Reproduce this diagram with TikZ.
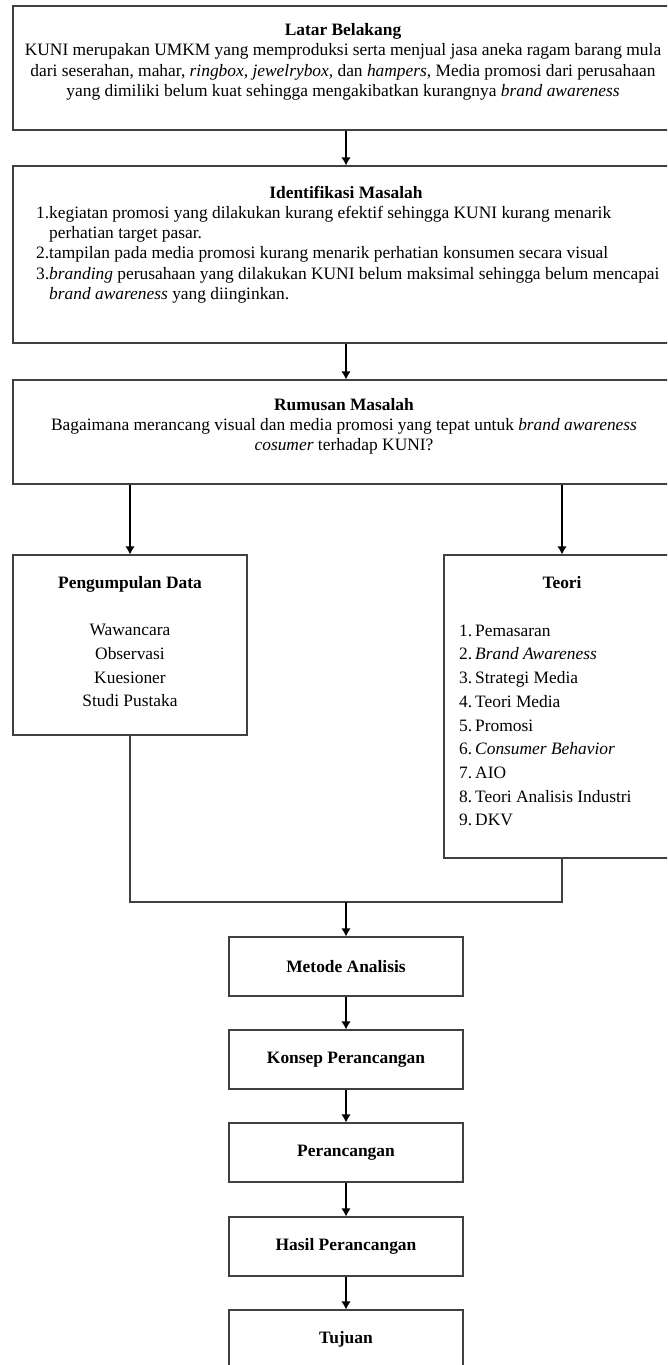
\documentclass[tikz,border=0pt]{standalone}
\usepackage{fontspec}
\setmainfont{Liberation Serif}
\usetikzlibrary{arrows.meta,calc}
\begin{document}
\begin{tikzpicture}[x=1pt,y=-1pt,
  box/.style={draw=black!75, line width=1.1pt, rectangle, inner sep=0pt},
  sbox/.style={box, minimum width=234pt, minimum height=59pt, font=\fontsize{17.4}{20.2}\selectfont\bfseries},
  arr/.style={draw=black, line width=2.1pt, -{Latex[length=8pt,width=9.5pt]}},
  conn/.style={draw=black!75, line width=1.1pt},
  txt/.style={inner sep=0pt, font=\fontsize{17.4}{20.2}\selectfont},
  ltxt/.style={inner sep=0pt, font=\fontsize{17.4}{23.7}\selectfont},
]
\useasboundingbox (0,0) rectangle (667,1365);
\clip (0,0) rectangle (667,1365);

% boxes
\node[box, minimum width=666pt, minimum height=124pt] (lb) at (346,68) {};
\node[box, minimum width=666pt, minimum height=177pt] (im) at (346,254.5) {};
\node[box, minimum width=666pt, minimum height=104pt] (rm) at (346,432) {};
\node[box, minimum width=234pt, minimum height=180pt] (pd) at (130,645) {};
\node[box, minimum width=236pt, minimum height=303pt] (teori) at (562,706.5) {};
\node[sbox] (ma) at (346,966.5) {Metode Analisis};
\node[sbox] (kp) at (346,1059.5) {Konsep Perancangan};
\node[sbox] (pr) at (346,1152.5) {Perancangan};
\node[sbox] (hp) at (346,1246.5) {Hasil Perancangan};
\node[sbox] (tj) at (346,1339.5) {Tujuan};

% texts
\node[txt, anchor=north, align=center] (lbt) at (343,21.4)
 {\strut\textbf{Latar Belakang}\\
  KUNI merupakan UMKM yang memproduksi serta menjual jasa aneka ragam barang mula\\
  dari seserahan, mahar, \textit{ringbox, jewelrybox,} dan \textit{hampers}, Media promosi dari perusahaan\\
  yang dimiliki belum kuat sehingga mengakibatkan kurangnya \textit{brand awareness}};

\node[txt, anchor=base] (imt) at (346,198) {\bfseries Identifikasi Masalah};
\node[txt, anchor=north west, align=left] (iml) at (36,204.06)
 {\strut\makebox[13pt][l]{1.}kegiatan promosi yang dilakukan kurang efektif sehingga KUNI kurang menarik\\
  \hspace*{13pt}perhatian target pasar.\\
  \makebox[13pt][l]{2.}tampilan pada media promosi kurang menarik perhatian konsumen secara visual\\
  \makebox[13pt][l]{3.}\textit{branding} perusahaan yang dilakukan KUNI belum maksimal sehingga belum mencapai\\
  \hspace*{13pt}\textit{brand awareness} yang diinginkan.};

\node[txt, anchor=north, align=center] (rmt) at (344,395.86)
 {\strut\textbf{Rumusan Masalah}\\
  Bagaimana merancang visual dan media promosi yang tepat untuk \textit{brand awareness}\\
  \textit{cosumer} terhadap KUNI?};

\node[ltxt, anchor=north, align=center] (pdt) at (130,571.41)
 {\strut\textbf{Pengumpulan Data}\\[23.7pt]
  Wawancara\\ Observasi\\ Kuesioner\\ Studi Pustaka};

\node[ltxt, anchor=base] (tt) at (562,588) {\bfseries Teori};
\node[ltxt, anchor=north west, align=left] (tl) at (459,619.41)
 {\strut\makebox[16pt][l]{1.}Pemasaran\\
  \makebox[16pt][l]{2.}\textit{Brand Awareness}\\
  \makebox[16pt][l]{3.}Strategi Media\\
  \makebox[16pt][l]{4.}Teori Media\\
  \makebox[16pt][l]{5.}Promosi\\
  \makebox[16pt][l]{6.}\textit{Consumer Behavior}\\
  \makebox[16pt][l]{7.}AIO\\
  \makebox[16pt][l]{8.}Teori Analisis Industri\\
  \makebox[16pt][l]{9.}DKV};

% connectors
\draw[arr] (lb.south) -- (im.north);
\draw[arr] (im.south) -- (rm.north);
\draw[arr] (rm.south -| pd.north) -- (pd.north);
\draw[arr] (rm.south -| teori.north) -- (teori.north);
\coordinate (m) at (346,902);
\draw[conn] (pd.south) |- (m) -| (teori.south);
\draw[arr] (m) -- (ma.north);
\draw[arr] (ma.south) -- (kp.north);
\draw[arr] (kp.south) -- (pr.north);
\draw[arr] (pr.south) -- (hp.north);
\draw[arr] (hp.south) -- (tj.north);
\end{tikzpicture}
\end{document}
